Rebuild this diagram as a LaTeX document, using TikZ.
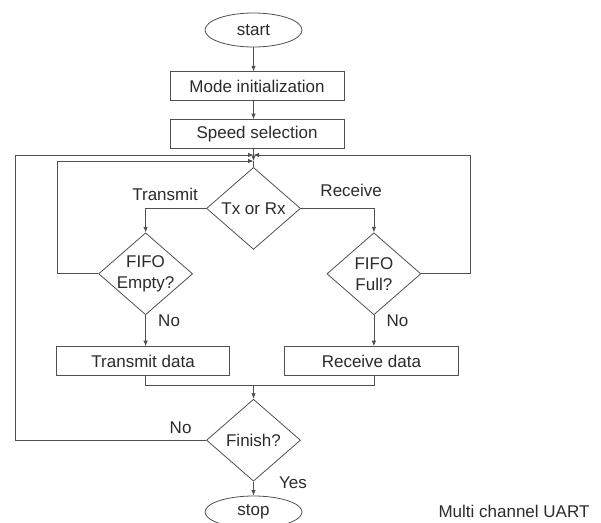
\documentclass[tikz,border=0pt]{standalone}
\usepackage{fontspec}
\setmainfont{Liberation Sans}
\usetikzlibrary{positioning,shapes.geometric,arrows.meta}

\definecolor{linegray}{HTML}{505050}
\definecolor{textgray}{HTML}{2B2B2B}

\tikzset{
  flow/.style={draw=linegray, line width=0.8pt},
  arrow/.style={flow, -{Latex[length=5.5pt,width=4.5pt]}},
  terminal/.style={ellipse, draw=linegray, line width=0.8pt, minimum width=97pt, minimum height=34pt, inner sep=0pt},
  process/.style={rectangle, draw=linegray, line width=0.8pt, minimum width=174pt, minimum height=29pt, inner sep=0pt},
  decision/.style={diamond, draw=linegray, line width=0.8pt, aspect=1.15, minimum width=94pt, minimum height=82pt, inner sep=-2pt, align=center},
  lbl/.style={inner sep=0pt}
}

\begin{document}
\begin{tikzpicture}[x=1pt, y=1pt, every node/.style={font=\fontsize{17}{21}\selectfont, text=textgray}]
    \useasboundingbox (0,0) rectangle (601,-522);
    \node [terminal] (start) at (253.5,-30) {start};
    \node [process, below=24pt of start, xshift=3.5pt] (mode) {Mode initialization};
    \node [process, below=18pt of mode] (speed) {Speed selection};
    \node [decision, below=18pt of speed, xshift=-3.5pt] (txrx) {Tx or Rx};
    \coordinate [above=6pt of txrx.north] (join);
    \coordinate [above=6pt of join] (outer);
    \coordinate [left=60.5pt of txrx.west] (tl);
    \coordinate [right=73pt of txrx.east] (tr);
    \node [decision, below=24pt of tl] (fifoE) {FIFO\\Empty?};
    \node [decision, below=24pt of tr] (fifoF) {FIFO\\Full?};
    \node [process, below=31pt of fifoE, xshift=-2.5pt, minimum width=173pt] (txdata) {Transmit data};
    \node [process, below=31pt of fifoF, xshift=-2.5pt] (rxdata) {Receive data};
    \node [decision, below=149pt of txrx] (finish) {Finish?};
    \coordinate [above=13pt of finish.north] (merge);
    \node [terminal, below=14pt of finish, minimum height=32pt] (stop) {stop};

    \draw [arrow] (start) -- (start |- mode.north);
    \draw [arrow] (mode.south -| start) -- (speed.north -| start);
    \draw [arrow] (speed.south -| join) -- (join);
    \draw [flow] (join) -- (txrx);
    \draw [arrow] (txrx.west) -| (fifoE);
    \draw [arrow] (txrx.east) -| (fifoF);
    \draw [arrow] (fifoE) -- (fifoE |- txdata.north);
    \draw [arrow] (fifoF) -- (fifoF |- rxdata.north);
    \draw [flow] (fifoE |- txdata.south) |- (merge) -| (fifoF |- rxdata.south);
    \draw [arrow] (merge) -- (finish);
    \draw [arrow] (finish) -- (stop);
    % loops back to the Tx/Rx choice
    \draw [arrow] (fifoE.west) -- ++(-41pt,0) |- (join);
    \draw [arrow] (fifoF.east) -- ++(49.3pt,0) |- (outer);
    \draw [arrow] (finish.west) -- ++(-191pt,0) |- (outer);

    \node [lbl] (tlabel) at ([xshift=19.5pt, yshift=14pt]tl) {Transmit};
    \node [lbl] (rlabel) at ([xshift=-22.7pt, yshift=18pt]tr) {Receive};
    \node [lbl] (noE) at ([xshift=23.5pt, yshift=-6pt]fifoE.south) {No};
    \node [lbl] (noF) at ([xshift=23.5pt, yshift=-6pt]fifoF.south) {No};
    \node [lbl] (noFin) at ([xshift=-25.5pt, yshift=12pt]finish.west) {No};
    \node [lbl] (yesFin) at ([xshift=39.5pt, yshift=-1pt]finish.south) {Yes};
    \node [lbl, anchor=base] (caption) at (514,-517.5) {Multi channel UART};
\end{tikzpicture}
\end{document}
